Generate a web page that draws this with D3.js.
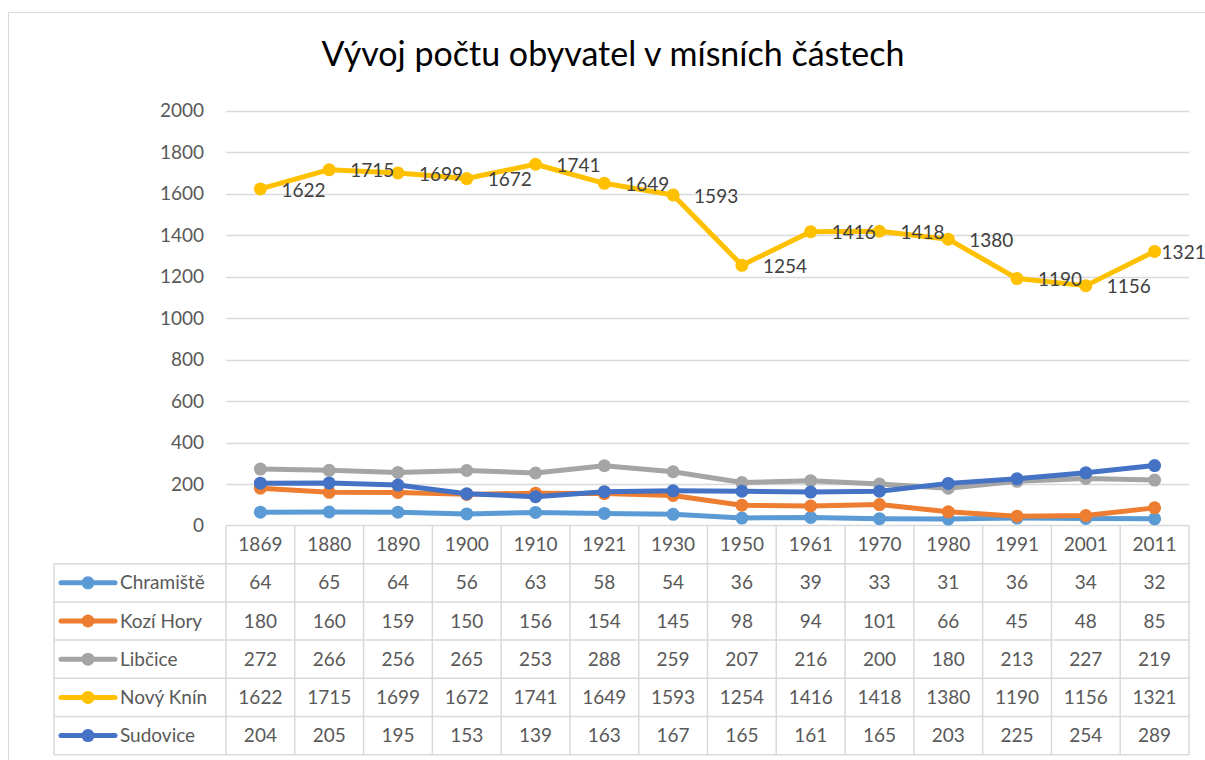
<!DOCTYPE html>
<html lang="cs">
<head>
<meta charset="UTF-8">
<title>Vývoj počtu obyvatel</title>
<script src="https://d3js.org/d3.v7.min.js"></script>
<style>
  body { margin: 0; background: #fff; }
  text { font-family: Lato, "Open Sans", sans-serif; }
</style>
</head>
<body>
<svg width="1205" height="760"></svg>
<script>
// data
const years = ["1869", "1880", "1890", "1900", "1910", "1921", "1930", "1950", "1961", "1970", "1980", "1991", "2001", "2011"];
const chramiste = [64, 65, 64, 56, 63, 58, 54, 36, 39, 33, 31, 36, 34, 32];
const koziHory  = [180, 160, 159, 150, 156, 154, 145, 98, 94, 101, 66, 45, 48, 85];
const libcice   = [272, 266, 256, 265, 253, 288, 259, 207, 216, 200, 180, 213, 227, 219];
const novyKnin  = [1622, 1715, 1699, 1672, 1741, 1649, 1593, 1254, 1416, 1418, 1380, 1190, 1156, 1321];
const sudovice  = [204, 205, 195, 153, 139, 163, 167, 165, 161, 165, 203, 225, 254, 289];
const yTicks = [0, 200, 400, 600, 800, 1000, 1200, 1400, 1600, 1800, 2000];

const series = [
  { name: "Chramiště", values: chramiste, color: "#5B9BD5" },
  { name: "Kozí Hory", values: koziHory, color: "#ED7D31" },
  { name: "Libčice", values: libcice, color: "#A5A5A5" },
  { name: "Nový Knín", values: novyKnin, color: "#FFC000", labels: true },
  { name: "Sudovice", values: sudovice, color: "#4472C4" }
];

const svg = d3.select("svg");
const grid = "#d9d9d9";
const textCol = "#595959";

// chart border
svg.append("rect")
  .attr("x", 8.5).attr("y", 12.5)
  .attr("width", 1400).attr("height", 900)
  .attr("fill", "none").attr("stroke", grid);

// title
svg.append("text")
  .attr("x", 613).attr("y", 66)
  .attr("text-anchor", "middle")
  .attr("font-size", 34)
  .attr("fill", "#000")
  .text("Vývoj počtu obyvatel v mísních částech");

const plotLeft = 226, plotRight = 1189, plotTop = 110.5, plotBottom = 525.5;

const x = d3.scaleBand().domain(years).range([plotLeft, plotRight]);
const y = d3.scaleLinear().domain([0, 2000]).range([plotBottom, plotTop]);

// gridlines
svg.append("g").selectAll("line")
  .data(yTicks.filter(d => d > 0))
  .join("line")
  .attr("x1", plotLeft).attr("x2", plotRight)
  .attr("y1", d => Math.round(y(d)) + 0.5).attr("y2", d => Math.round(y(d)) + 0.5)
  .attr("stroke", grid).attr("stroke-width", 1.3);

// y axis labels
const yAxis = d3.axisLeft(y).tickValues(yTicks).tickFormat(d3.format("d")).tickSize(0).tickPadding(22);
const yg = svg.append("g").attr("transform", `translate(${plotLeft},0)`).call(yAxis);
yg.select(".domain").remove();
yg.selectAll("text")
  .attr("font-size", 19).attr("fill", textCol)
  .attr("font-family", "Lato, 'Open Sans', sans-serif");

// data table
const rowH = 38.2;
const headTop = plotBottom;
const rowsTop = headTop + rowH;
const legendLeft = 54;
const tg = svg.append("g");

tg.append("line")
  .attr("x1", plotLeft).attr("x2", plotRight)
  .attr("y1", headTop).attr("y2", headTop)
  .attr("stroke", grid).attr("stroke-width", 1.5);
tg.selectAll("line.hr")
  .data(d3.range(series.length + 1))
  .join("line")
  .attr("class", "hr")
  .attr("x1", legendLeft).attr("x2", plotRight)
  .attr("y1", i => rowsTop + i * rowH).attr("y2", i => rowsTop + i * rowH)
  .attr("stroke", grid).attr("stroke-width", 1.5);
tg.selectAll("line.v")
  .data(d3.range(years.length + 1))
  .join("line")
  .attr("class", "v")
  .attr("x1", i => plotLeft + i * x.bandwidth())
  .attr("x2", i => plotLeft + i * x.bandwidth())
  .attr("y1", headTop).attr("y2", rowsTop + series.length * rowH)
  .attr("stroke", grid).attr("stroke-width", 1.5);
tg.append("line")
  .attr("x1", legendLeft).attr("x2", legendLeft)
  .attr("y1", rowsTop).attr("y2", rowsTop + series.length * rowH)
  .attr("stroke", grid).attr("stroke-width", 1.5);

// header years
tg.selectAll("text.year")
  .data(years)
  .join("text")
  .attr("class", "year")
  .attr("x", d => x(d) + x.bandwidth() / 2)
  .attr("y", headTop + rowH / 2)
  .attr("dy", "0.35em")
  .attr("text-anchor", "middle")
  .attr("font-size", 19).attr("fill", textCol)
  .text(d => d);

// rows
series.forEach((s, r) => {
  const cy = rowsTop + r * rowH + rowH / 2;
  const rg = tg.append("g");
  rg.append("line")
    .attr("x1", 61).attr("x2", 115)
    .attr("y1", cy).attr("y2", cy)
    .attr("stroke", s.color).attr("stroke-width", 5)
    .attr("stroke-linecap", "round");
  rg.append("circle")
    .attr("cx", 88).attr("cy", cy).attr("r", 6.5)
    .attr("fill", s.color);
  rg.append("text")
    .attr("x", 120).attr("y", cy).attr("dy", "0.35em")
    .attr("font-size", 19).attr("fill", textCol)
    .text(s.name);
  rg.selectAll("text.val")
    .data(s.values)
    .join("text")
    .attr("class", "val")
    .attr("x", (d, i) => x(years[i]) + x.bandwidth() / 2)
    .attr("y", cy).attr("dy", "0.35em")
    .attr("text-anchor", "middle")
    .attr("font-size", 19).attr("fill", textCol)
    .text(d => d);
});

// lines
const line = d3.line()
  .x((d, i) => x(years[i]) + x.bandwidth() / 2)
  .y(d => y(d));

series.forEach(s => {
  const g = svg.append("g");
  g.append("path")
    .datum(s.values)
    .attr("d", line)
    .attr("fill", "none")
    .attr("stroke", s.color)
    .attr("stroke-width", 5)
    .attr("stroke-linejoin", "round")
    .attr("stroke-linecap", "round");
  g.selectAll("circle")
    .data(s.values)
    .join("circle")
    .attr("cx", (d, i) => x(years[i]) + x.bandwidth() / 2)
    .attr("cy", d => y(d))
    .attr("r", 6.5)
    .attr("fill", s.color);
});

// data labels for Nový Knín (last one pulled in to stay inside the frame)
series.filter(s => s.labels).forEach(s => {
  const last = s.values.length - 1;
  svg.append("g").selectAll("text")
    .data(s.values)
    .join("text")
    .attr("x", (d, i) => x(years[i]) + x.bandwidth() / 2 + (i === last ? 7 : 21))
    .attr("y", d => y(d) + 1)
    .attr("dy", "0.35em")
    .attr("font-size", 19)
    .attr("fill", "#404040")
    .text(d => d);
});
</script>
</body>
</html>
